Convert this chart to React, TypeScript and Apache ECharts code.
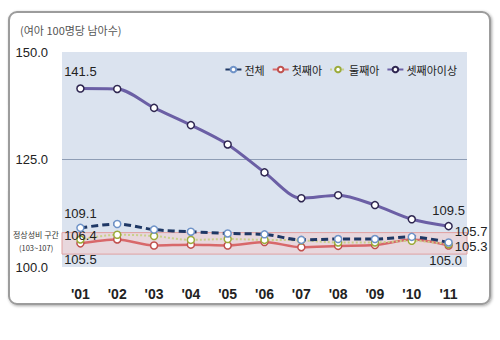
import React, { useEffect, useRef } from "react";
import * as echarts from "echarts";

const years = ["'01", "'02", "'03", "'04", "'05", "'06", "'07", "'08", "'09", "'10", "'11"];
const seriesNames = ["전체", "첫째아", "둘째아", "셋째아이상"];
const totalVals = [109.1, 110.0, 108.7, 108.2, 107.8, 107.6, 106.3, 106.5, 106.5, 107.0, 105.7];
const firstVals = [105.5, 106.4, 105.0, 105.2, 105.0, 105.8, 104.6, 104.9, 105.1, 106.4, 105.0];
const secondVals = [106.4, 107.5, 107.2, 106.3, 106.5, 106.3, 106.2, 105.7, 105.7, 106.1, 105.3];
const thirdVals = [141.5, 141.4, 137.0, 133.0, 128.5, 122.0, 116.0, 116.7, 114.4, 111.1, 109.5];
const normalRange = [103, 108];

const NUM_FONT = "'Liberation Sans', Arial, sans-serif";
const KR_FONT = "'Noto Sans CJK KR', sans-serif";

function withLabels(vals: number[], first: any, last: any) {
  return vals.map((v, i) => {
    if (i === 0 && first) return { value: v, label: { show: true, ...first } };
    if (i === vals.length - 1 && last) return { value: v, label: { show: true, ...last } };
    return v;
  });
}

export default function App() {
  const ref = useRef<HTMLDivElement>(null);
  useEffect(() => {
    if (!ref.current) return;
    const chart = echarts.init(ref.current, null, { renderer: "svg" });
    const lbl = {
      fontFamily: NUM_FONT,
      fontSize: 13,
      color: "#222",
      formatter: (p: any) => Number(p.value).toFixed(1),
    };
    chart.setOption({
      animation: false,
      title: {
        text: "(여아 100명당 남아수)",
        left: 15,
        top: 19,
        textStyle: { fontFamily: KR_FONT, fontSize: 11, color: "#555", fontWeight: "normal" },
      },
      graphic: [
        {
          type: "rect",
          z: -100,
          shape: { x: 9, y: 12, width: 481, height: 292, r: 8 },
          style: {
            fill: "#fff",
            stroke: "#9c9c9c",
            lineWidth: 2,
            shadowBlur: 3,
            shadowColor: "rgba(0,0,0,0.35)",
            shadowOffsetX: 1,
            shadowOffsetY: 1,
          },
        },
        {
          type: "text",
          left: 13,
          top: 230,
          style: { text: "정상성비 구간", font: "8px 'Noto Sans CJK KR', sans-serif", fill: "#333" },
        },
        {
          type: "text",
          left: 19,
          top: 244,
          style: { text: "(103~107)", font: "7.5px 'Noto Sans CJK KR', sans-serif", fill: "#333" },
        },
      ],
      legend: {
        data: seriesNames,
        right: 38,
        top: 59,
        itemWidth: 16,
        itemHeight: 7,
        itemGap: 7,
        textStyle: { fontFamily: KR_FONT, fontSize: 11, color: "#222", padding: [0, 0, 0, -2] },
      },
      grid: {
        left: 62,
        right: 33,
        top: 52,
        bottom: 73,
        show: true,
        backgroundColor: "#dbe3ef",
        borderWidth: 0,
      },
      xAxis: {
        type: "category",
        data: years,
        boundaryGap: true,
        axisLine: { show: false },
        axisTick: { show: false },
        axisLabel: {
          margin: 20,
          fontFamily: NUM_FONT,
          fontSize: 14,
          fontWeight: "bold",
          color: "#222",
        },
      },
      yAxis: {
        type: "value",
        min: 100,
        max: 150,
        interval: 25,
        axisLine: { show: false },
        axisTick: { show: false },
        axisLabel: {
          margin: 14,
          formatter: (v: number) => v.toFixed(1),
          fontFamily: NUM_FONT,
          fontSize: 13,
          color: "#222",
        },
        splitLine: { lineStyle: { color: ["transparent", "#8e9db5", "transparent"], width: 1 } },
      },
      series: [
        {
          name: "전체",
          type: "line",
          smooth: 0.3,
          data: withLabels(
            totalVals,
            { position: "top", distance: 4, ...lbl },
            { position: "right", distance: 2, offset: [0, -11], ...lbl }
          ),
          lineStyle: { color: "#1f3865", width: 3, type: [7, 4] },
          itemStyle: { color: "#fff", borderColor: "#6f93c8", borderWidth: 1.5 },
          color: "#1f3865",
          symbol: "circle",
          symbolSize: 7,
          z: 4,
          markArea: {
            silent: true,
            itemStyle: { color: "rgba(243,205,205,0.55)", borderColor: "#e0a0a0", borderWidth: 1 },
            data: [[{ yAxis: normalRange[0] }, { yAxis: normalRange[1] }]],
          },
        },
        {
          name: "첫째아",
          type: "line",
          smooth: 0.3,
          data: withLabels(
            firstVals,
            { position: "bottom", distance: 5, ...lbl },
            { position: "bottom", distance: 4, offset: [-3, 0], ...lbl }
          ),
          lineStyle: { color: "#d8686a", width: 2.5 },
          itemStyle: { color: "#fff", borderColor: "#c0504d", borderWidth: 1.5 },
          color: "#c0504d",
          symbol: "circle",
          symbolSize: 7,
          z: 3,
        },
        {
          name: "둘째아",
          type: "line",
          smooth: 0.3,
          data: withLabels(
            secondVals,
            { position: "inside", offset: [0, -4], ...lbl },
            { position: "right", distance: 2, offset: [0, 2], ...lbl }
          ),
          lineStyle: { color: "#c9d08a", width: 2, type: "dotted" },
          itemStyle: { color: "#fff", borderColor: "#9bab3a", borderWidth: 1.5 },
          color: "#9bab3a",
          symbol: "circle",
          symbolSize: 7,
          z: 3,
        },
        {
          name: "셋째아이상",
          type: "line",
          smooth: 0.3,
          data: withLabels(
            thirdVals,
            { position: "top", distance: 6, ...lbl },
            { position: "top", distance: 5, ...lbl }
          ),
          lineStyle: { color: "#6b5fa5", width: 3 },
          itemStyle: { color: "#fff", borderColor: "#2e2650", borderWidth: 1.5 },
          color: "#4a3f80",
          symbol: "circle",
          symbolSize: 7,
          z: 5,
        },
      ],
    });
    return () => chart.dispose();
  }, []);
  return (
    <div
      ref={ref}
      style={{ position: "fixed", left: 0, top: 0, width: 500, height: 340, background: "#fff" }}
    />
  );
}
